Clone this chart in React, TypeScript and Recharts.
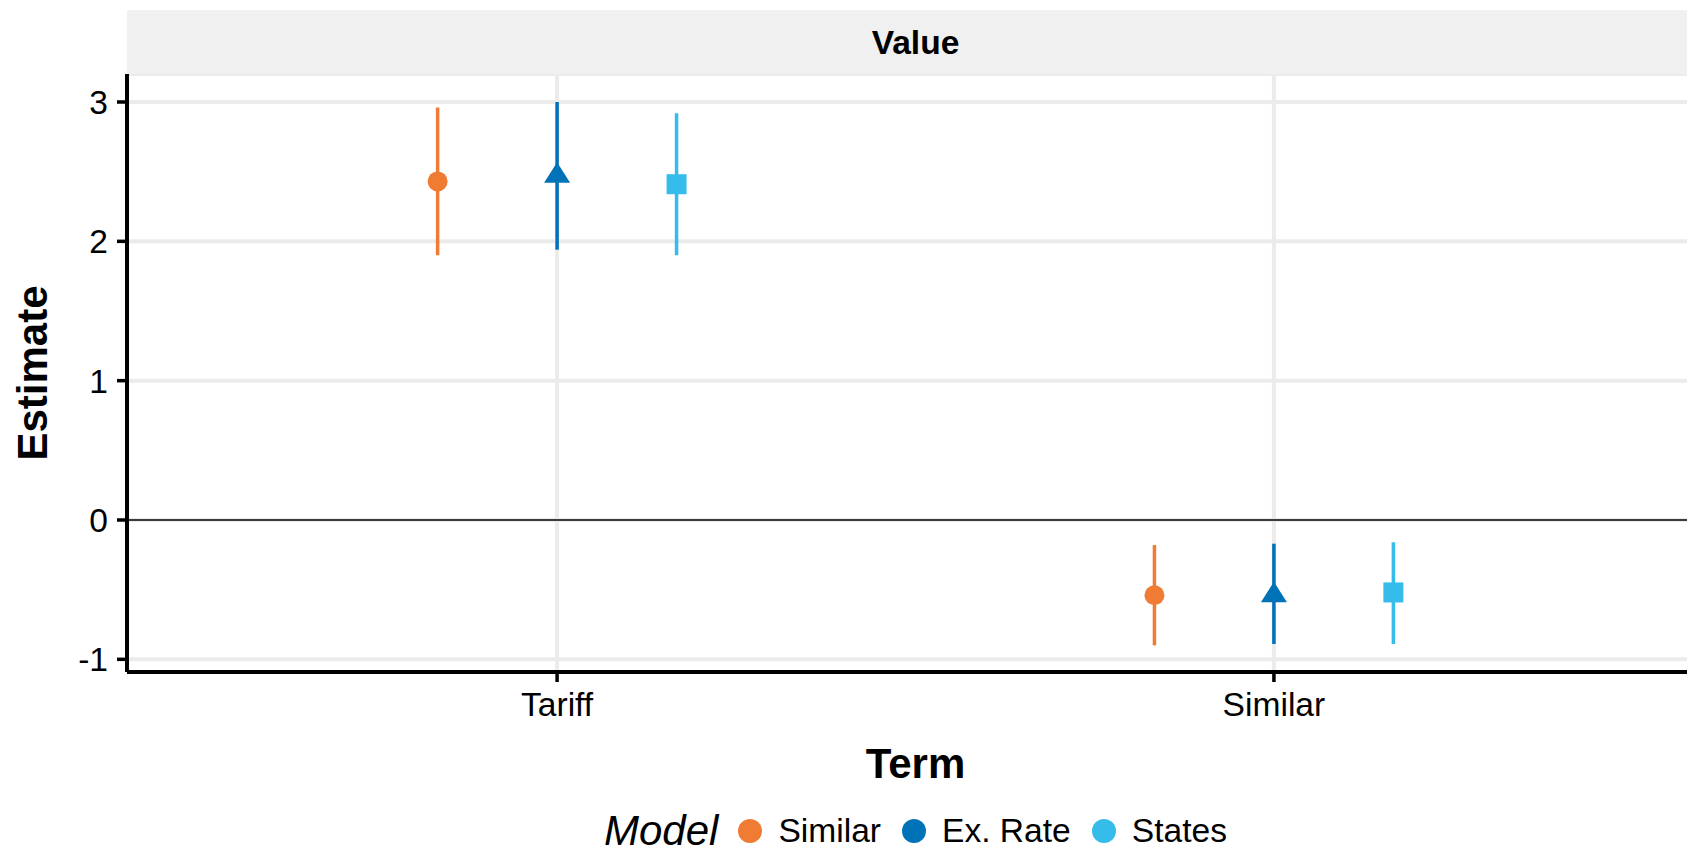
import React from 'react';
import {
  ComposedChart,
  Scatter,
  ErrorBar,
  XAxis,
  YAxis,
  CartesianGrid,
  ReferenceLine,
  Legend,
  Customized,
} from 'recharts';

// ---------- data ----------
const categories = ['Tariff', 'Similar'];
const models = ['Similar', 'Ex. Rate', 'States'];
const modelColors = ['#F07C34', '#0072B8', '#35BCEB'];
const yTicks = [-1, 0, 1, 2, 3];

// estimates and interval bounds per model, in category order
const similarEst = [2.43, -0.54];
const similarLo = [1.9, -0.9];
const similarHi = [2.96, -0.18];

const exRateEst = [2.47, -0.54];
const exRateLo = [1.94, -0.89];
const exRateHi = [3.0, -0.17];

const statesEst = [2.41, -0.52];
const statesLo = [1.9, -0.89];
const statesHi = [2.92, -0.16];

const estimates = [similarEst, exRateEst, statesEst];
const lows = [similarLo, exRateLo, statesLo];
const highs = [similarHi, exRateHi, statesHi];

const DODGE = 0.5;

const seriesData = models.map((_, m) =>
  categories.map((_c, i) => ({
    x: i + 1 + ((m - 1) * DODGE) / 3,
    y: estimates[m][i],
    err: [estimates[m][i] - lows[m][i], highs[m][i] - estimates[m][i]],
  }))
);

// ---------- layout ----------
const FONT = '"Liberation Sans", Arial, Helvetica, sans-serif';
const TEXT_SIZE = 33.6;
const TITLE_SIZE = 42;
const CHART_W = 1704;
const CHART_H = 855;
const PLOT_LEFT = 127;
const PLOT_TOP = 74;
const X_AXIS_H = 60;
const BOTTOM_MARGIN = 123;
const PLOT_RIGHT = CHART_W;
const PLOT_BOTTOM = CHART_H - BOTTOM_MARGIN - X_AXIS_H;
const PLOT_CX = (PLOT_LEFT + PLOT_RIGHT) / 2;
const PLOT_CY = (PLOT_TOP + PLOT_BOTTOM) / 2;
const LEGEND_H = 48;
const LEGEND_TOP = CHART_H - LEGEND_H;

const makeShape = (kind: number, color: string) => (p: any) => {
  const { cx, cy } = p;
  if (cx == null || cy == null) return <g />;
  if (kind === 0) return <circle cx={cx} cy={cy} r={10} fill={color} />;
  if (kind === 1)
    return (
      <polygon
        points={`${cx},${cy - 13.5} ${cx + 13},${cy + 7} ${cx - 13},${cy + 7}`}
        fill={color}
      />
    );
  return <rect x={cx - 10} y={cy - 10} width={20} height={20} fill={color} />;
};

const Decorations = () => (
  <g>
    <rect x={PLOT_LEFT} y={10} width={PLOT_RIGHT - PLOT_LEFT} height={PLOT_TOP - 10} fill="#F0F0F0" />
    <text
      x={PLOT_CX}
      y={54}
      textAnchor="middle"
      fontFamily={FONT}
      fontWeight="bold"
      fontSize={TEXT_SIZE}
      fill="#000"
    >
      Value
    </text>
    <text
      x={PLOT_CX}
      y={778}
      textAnchor="middle"
      fontFamily={FONT}
      fontWeight="bold"
      fontSize={TITLE_SIZE}
      fill="#000"
    >
      Term
    </text>
    <text
      x={47}
      y={PLOT_CY}
      transform={`rotate(-90, 47, ${PLOT_CY})`}
      textAnchor="middle"
      fontFamily={FONT}
      fontWeight="bold"
      fontSize={TITLE_SIZE}
      fill="#000"
    >
      Estimate
    </text>
  </g>
);

const LegendContent = () => (
  <div
    style={{
      display: 'flex',
      alignItems: 'center',
      justifyContent: 'center',
      fontFamily: FONT,
      color: '#000',
      height: LEGEND_H,
    }}
  >
    <span
      style={{
        fontStyle: 'italic',
        fontSize: TITLE_SIZE,
        lineHeight: `${LEGEND_H}px`,
        marginRight: 18,
        paddingRight: 2,
      }}
    >
      Model
    </span>
    {models.map((m, i) => (
      <React.Fragment key={m}>
        <span
          style={{
            display: 'inline-block',
            width: 24,
            height: 24,
            borderRadius: 12,
            background: modelColors[i],
            marginRight: 16,
          }}
        />
        <span
          style={{
            fontSize: TEXT_SIZE,
            lineHeight: `${LEGEND_H}px`,
            marginRight: i < models.length - 1 ? 21 : 0,
          }}
        >
          {m}
        </span>
      </React.Fragment>
    ))}
  </div>
);

export default function App() {
  return (
    <div
      style={{
        position: 'absolute',
        left: 0,
        top: 0,
        width: 1687,
        height: 855,
        overflow: 'hidden',
        background: '#fff',
      }}
    >
      <ComposedChart
        width={CHART_W}
        height={CHART_H}
        margin={{ top: PLOT_TOP, right: 0, bottom: BOTTOM_MARGIN, left: 0 }}
      >
        <CartesianGrid stroke="#EBEBEB" strokeWidth={4} />
        <XAxis
          type="number"
          dataKey="x"
          domain={[0.4, 2.6]}
          ticks={[1, 2]}
          tickFormatter={(v: number) => categories[Math.round(v) - 1]}
          height={X_AXIS_H}
          axisLine={{ stroke: '#000', strokeWidth: 4 }}
          tickLine={{ stroke: '#000', strokeWidth: 3.5 }}
          tickSize={10}
          tickMargin={10}
          tick={{ fill: '#000', fontSize: TEXT_SIZE, fontFamily: FONT }}
          allowDataOverflow
        />
        <YAxis
          type="number"
          dataKey="y"
          domain={[-1.091, 3.201]}
          ticks={yTicks}
          width={PLOT_LEFT}
          axisLine={{ stroke: '#000', strokeWidth: 4 }}
          tickLine={{ stroke: '#000', strokeWidth: 3.5 }}
          tickSize={10}
          tickMargin={9}
          tick={{ fill: '#000', fontSize: TEXT_SIZE, fontFamily: FONT }}
          allowDataOverflow
        />
        <ReferenceLine y={0} stroke="#000" strokeWidth={1.5} />
        {models.map((m, i) => (
          <Scatter
            key={m}
            name={m}
            data={seriesData[i]}
            fill={modelColors[i]}
            shape={makeShape(i, modelColors[i])}
            isAnimationActive={false}
          >
            <ErrorBar
              dataKey="err"
              direction="y"
              width={0}
              stroke={modelColors[i]}
              strokeWidth={3.5}
              isAnimationActive={false}
            />
          </Scatter>
        ))}
        <Legend
          layout="horizontal"
          verticalAlign="middle"
          align="center"
          content={<LegendContent />}
          wrapperStyle={{
            position: 'absolute',
            left: PLOT_LEFT,
            width: PLOT_RIGHT - PLOT_LEFT,
            top: LEGEND_TOP,
            height: LEGEND_H,
          }}
        />
        <Customized component={<Decorations />} />
      </ComposedChart>
    </div>
  );
}
